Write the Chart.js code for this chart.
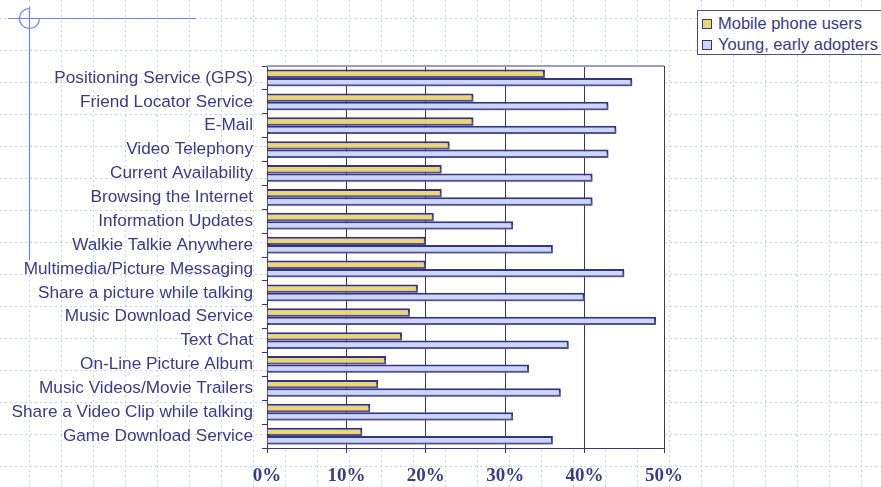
<!DOCTYPE html>
<html>
<head>
<meta charset="utf-8">
<script src="https://cdn.jsdelivr.net/npm/chart.js@4/dist/chart.umd.min.js"></script>
<style>
  html, body { margin: 0; padding: 0; background: #fff; overflow: hidden; }
  #wrap { position: relative; width: 881px; height: 487px; }
  #legend {
    position: absolute; left: 697px; top: 10px; width: 190px; height: 43px;
    border: 1px solid #4a4a96; background: #fff;
    font-family: "Liberation Sans", Arial, sans-serif; font-size: 16.5px; color: #3a3a8c;
  }
  #legend div { position: absolute; left: 4px; height: 20px; line-height: 20px; white-space: nowrap; }
  #legend span.box {
    display: inline-block; width: 8px; height: 8px; border: 1px solid #34347f;
    margin-right: 6px; vertical-align: 0px;
  }
</style>
</head>
<body>
<div id="wrap">
  <canvas id="barChart" width="881" height="487"></canvas>
  <div id="legend"></div>
</div>
<script>
const categories = [
    'Positioning Service (GPS)',
    'Friend Locator Service',
    'E-Mail',
    'Video Telephony',
    'Current Availability',
    'Browsing the Internet',
    'Information Updates',
    'Walkie Talkie Anywhere',
    'Multimedia/Picture Messaging',
    'Share a picture while talking',
    'Music Download Service',
    'Text Chat',
    'On-Line Picture Album',
    'Music Videos/Movie Trailers',
    'Share a Video Clip while talking',
    'Game Download Service'
];
const mobileUsers = [35, 26, 26, 23, 22, 22, 21, 20, 20, 19, 18, 17, 15, 14, 13, 12];
const earlyAdopters = [46, 43, 44, 43, 41, 41, 31, 36, 45, 40, 49, 38, 33, 37, 31, 36];
const seriesNames = ['Mobile phone users', 'Young, early adopters'];
const tickValues = [0, 10, 20, 30, 40, 50];

const navy = '#34347f';
const labelColor = '#3a3a8c';

// dotted sheet behind everything, white plot area, corner ornament
const backdrop = {
    id: 'backdrop',
    beforeDraw(chart) {
        const ctx = chart.ctx;
        const area = chart.chartArea;
        const W = chart.width, H = chart.height;
        ctx.save();
        ctx.fillStyle = '#fff';
        ctx.fillRect(0, 0, W, H);

        ctx.strokeStyle = '#c8d3fb';
        ctx.lineWidth = 1;
        ctx.setLineDash([2, 3]);
        for (let x = 29 - 32; x < W; x += 32) {
            ctx.beginPath();
            ctx.moveTo(x + 0.5, 0);
            ctx.lineTo(x + 0.5, H);
            ctx.stroke();
        }
        for (let y = 18; y < H; y += 32) {
            ctx.beginPath();
            ctx.moveTo(0, y + 0.5);
            ctx.lineTo(W, y + 0.5);
            ctx.stroke();
        }
        ctx.setLineDash([]);

        ctx.fillStyle = '#fff';
        ctx.fillRect(area.left, area.top, area.right - area.left, area.bottom - area.top);

        ctx.strokeStyle = '#6a86f2';
        ctx.lineWidth = 1.2;
        ctx.beginPath();
        ctx.moveTo(8, 18.5);
        ctx.lineTo(196, 18.5);
        ctx.moveTo(29.5, 7);
        ctx.lineTo(29.5, 260);
        ctx.stroke();
        ctx.beginPath();
        ctx.arc(29.5, 18.5, 10, 0, Math.PI * 1.5);
        ctx.stroke();
        ctx.restore();
    },
    afterDraw(chart) {
        const ctx = chart.ctx;
        const area = chart.chartArea;
        ctx.save();
        ctx.strokeStyle = '#9c9ccb';
        ctx.lineWidth = 2;
        ctx.beginPath();
        ctx.moveTo(area.left, area.top);
        ctx.lineTo(area.right, area.top);
        ctx.stroke();
        ctx.restore();
    }
};

// soft offset shadow under the bars
const barShadow = {
    id: 'barShadow',
    beforeDatasetsDraw(chart) {
        const ctx = chart.ctx;
        ctx.save();
        ctx.shadowColor = 'rgba(110, 110, 160, 0.55)';
        ctx.shadowOffsetX = 2;
        ctx.shadowOffsetY = 2;
        ctx.shadowBlur = 0;
    },
    afterDatasetsDraw(chart) {
        chart.ctx.restore();
    }
};

const barChart = new Chart(document.getElementById('barChart').getContext('2d'), {
    type: 'bar',
    data: {
        labels: categories,
        datasets: [
            {
                label: seriesNames[0],
                data: mobileUsers,
                backgroundColor: '#ebd57b',
                borderColor: navy,
                borderWidth: 2,
                barPercentage: 1,
                categoryPercentage: 0.7
            },
            {
                label: seriesNames[1],
                data: earlyAdopters,
                backgroundColor: '#ccd6fa',
                borderColor: navy,
                borderWidth: 2,
                barPercentage: 1,
                categoryPercentage: 0.7
            }
        ]
    },
    options: {
        indexAxis: 'y',
        responsive: false,
        animation: false,
        layout: { padding: { left: 0, top: 66, right: 217, bottom: 0 } },
        scales: {
            x: {
                min: 0,
                max: 50,
                afterFit(scale) { scale.height = 39; },
                afterBuildTicks(scale) { scale.ticks = tickValues.map(v => ({ value: v })); },
                grid: { color: navy, lineWidth: 1, tickLength: 5 },
                border: { color: navy, width: 1 },
                ticks: {
                    padding: 12,
                    color: labelColor,
                    font: { family: '"Liberation Serif", "Times New Roman", serif', size: 19, weight: 'bold' },
                    callback: value => value + '%'
                }
            },
            y: {
                afterFit(scale) { scale.width = 267; },
                grid: { drawOnChartArea: false, color: navy, tickLength: 5 },
                border: { color: navy, width: 1 },
                ticks: {
                    padding: 9,
                    color: labelColor,
                    font: { family: '"Liberation Sans", Arial, sans-serif', size: 17.2 }
                }
            }
        },
        plugins: {
            legend: { display: false },
            tooltip: { enabled: false }
        }
    },
    plugins: [backdrop, barShadow]
});

// legend box, built from the chart's datasets
const legendEl = document.getElementById('legend');
barChart.data.datasets.forEach((ds, i) => {
    const row = document.createElement('div');
    row.style.top = (2 + i * 21) + 'px';
    const box = document.createElement('span');
    box.className = 'box';
    box.style.background = ds.backgroundColor;
    row.appendChild(box);
    row.appendChild(document.createTextNode(ds.label));
    legendEl.appendChild(row);
});
</script>
</body>
</html>
